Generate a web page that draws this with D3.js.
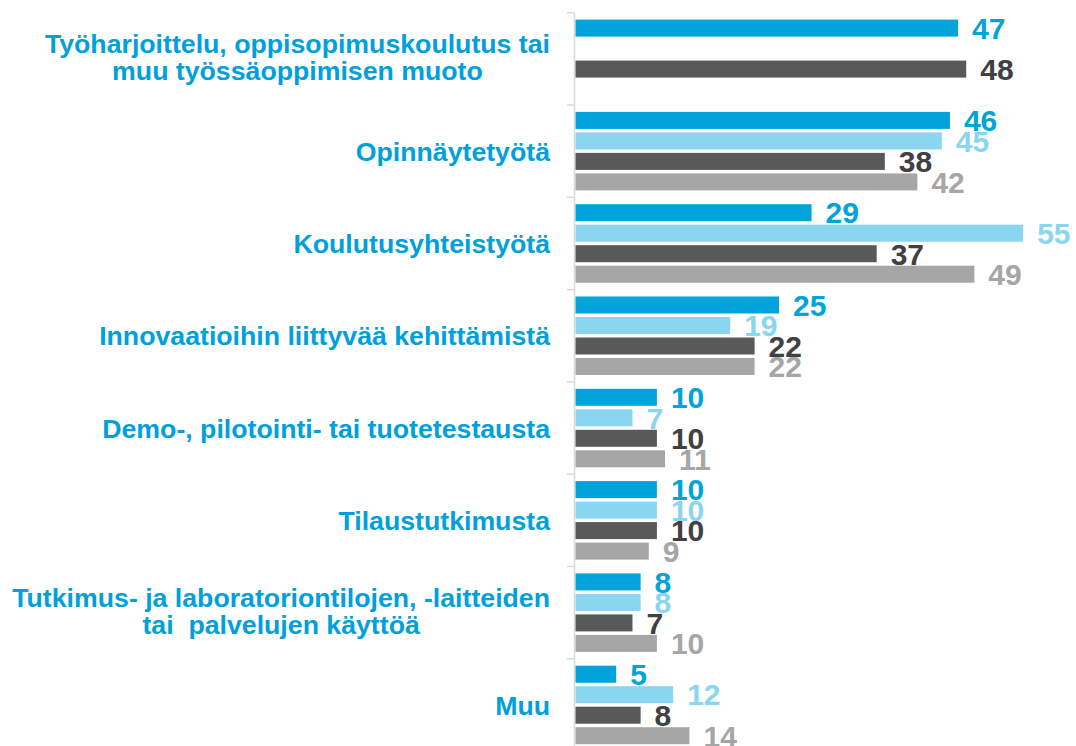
<!DOCTYPE html>
<html>
<head>
<meta charset="utf-8">
<script src="https://cdn.jsdelivr.net/npm/d3@7"></script>
<style>
  html, body { margin: 0; padding: 0; background: #ffffff; }
  svg { display: block; font-family: "Liberation Sans", Arial, sans-serif; }
  .cat { white-space: pre; }
</style>
</head>
<body>
<svg id="chart" width="1076" height="746"></svg>
<script>
// Categories (top to bottom); "\n" marks a line break in the label
const categories = [
  "Työharjoittelu, oppisopimuskoulutus tai\nmuu työssäoppimisen muoto",
  "Opinnäytetyötä",
  "Koulutusyhteistyötä",
  "Innovaatioihin liittyvää kehittämistä",
  "Demo-, pilotointi- tai tuotetestausta",
  "Tilaustutkimusta",
  "Tutkimus- ja laboratoriontilojen, -laitteiden\ntai  palvelujen käyttöä",
  "Muu"
];

// Four series, one value per category (null = no bar)
const series1 = [47, 46, 29, 25, 10, 10, 8, 5];
const series2 = [null, 45, 55, 19, 7, 10, 8, 12];
const series3 = [48, 38, 37, 22, 10, 10, 7, 8];
const series4 = [null, 42, 49, 22, 11, 9, 10, 14];

const seriesList = [series1, series2, series3, series4];
const barColors = ["#00a3da", "#8ad5ef", "#595959", "#a6a6a6"];
const labelColors = ["#00a3da", "#8ad5ef", "#404040", "#a6a6a6"];

const svg = d3.select("#chart");

const axisX = 574.5;
const x = d3.scaleLinear().domain([0, 60]).range([575.5, 575.5 + 60 * 8.14]);

const y = d3.scaleBand()
  .domain(d3.range(categories.length))
  .range([12.7, 12.7 + 8 * 92.3])
  .padding(0);

const ySub = d3.scaleBand()
  .domain(d3.range(seriesList.length))
  .range([0, y.bandwidth()])
  .paddingInner(0.17)
  .paddingOuter(0.336);

// Vertical category axis with outward ticks at group boundaries
const axisG = svg.append("g").attr("class", "axis");
axisG.append("line")
  .attr("x1", axisX).attr("x2", axisX)
  .attr("y1", y(0)).attr("y2", y.range()[1])
  .attr("stroke", "#d9d9d9").attr("stroke-width", 1.5);
const boundaries = d3.range(categories.length + 1).map(i => y.range()[0] + i * y.step());
axisG.selectAll("line.tick").data(boundaries).join("line")
  .attr("class", "tick")
  .attr("x1", axisX - 7.5).attr("x2", axisX)
  .attr("y1", d => d).attr("y2", d => d)
  .attr("stroke", "#d9d9d9").attr("stroke-width", 1.5);

// Bars and value labels
const rows = [];
categories.forEach((c, ci) => {
  seriesList.forEach((s, si) => {
    if (s[ci] != null) rows.push({ ci, si, v: s[ci] });
  });
});

svg.append("g").selectAll("rect").data(rows).join("rect")
  .attr("x", x(0))
  .attr("y", d => y(d.ci) + ySub(d.si))
  .attr("width", d => x(d.v) - x(0))
  .attr("height", ySub.bandwidth())
  .attr("fill", d => barColors[d.si]);

svg.append("g").selectAll("text").data(rows).join("text")
  .attr("x", d => x(d.v) + 14)
  .attr("y", d => y(d.ci) + ySub(d.si) + ySub.bandwidth() / 2)
  .attr("dy", "0.36em")
  .attr("fill", d => labelColors[d.si])
  .attr("font-size", 30)
  .attr("font-weight", "bold")
  .text(d => d.v);

// Category labels: first line right-aligned, following lines centred under it
const labelRight = 550;
const catSize = 26.7;
const lh = 27.5;
const catG = svg.append("g");
categories.forEach((c, ci) => {
  const lines = c.split("\n");
  const cy = y(ci) + y.bandwidth() / 2 - (lines.length > 1 ? 2 : 0);
  const top = cy - (lines.length - 1) * lh / 2;
  const first = catG.append("text")
    .attr("class", "cat")
    .attr("fill", "#00a0dc")
    .attr("font-size", catSize)
    .attr("font-weight", "bold")
    .attr("x", labelRight)
    .attr("y", top)
    .attr("dy", "0.36em")
    .attr("text-anchor", "end")
    .text(lines[0]);
  if (lines.length > 1) {
    const w = first.node().getComputedTextLength();
    lines.slice(1).forEach((ln, li) => {
      catG.append("text")
        .attr("class", "cat")
        .attr("fill", "#00a0dc")
        .attr("font-size", catSize)
        .attr("font-weight", "bold")
        .attr("x", labelRight - w / 2)
        .attr("y", top + (li + 1) * lh)
        .attr("dy", "0.36em")
        .attr("text-anchor", "middle")
        .text(ln);
    });
  }
});
</script>
</body>
</html>
